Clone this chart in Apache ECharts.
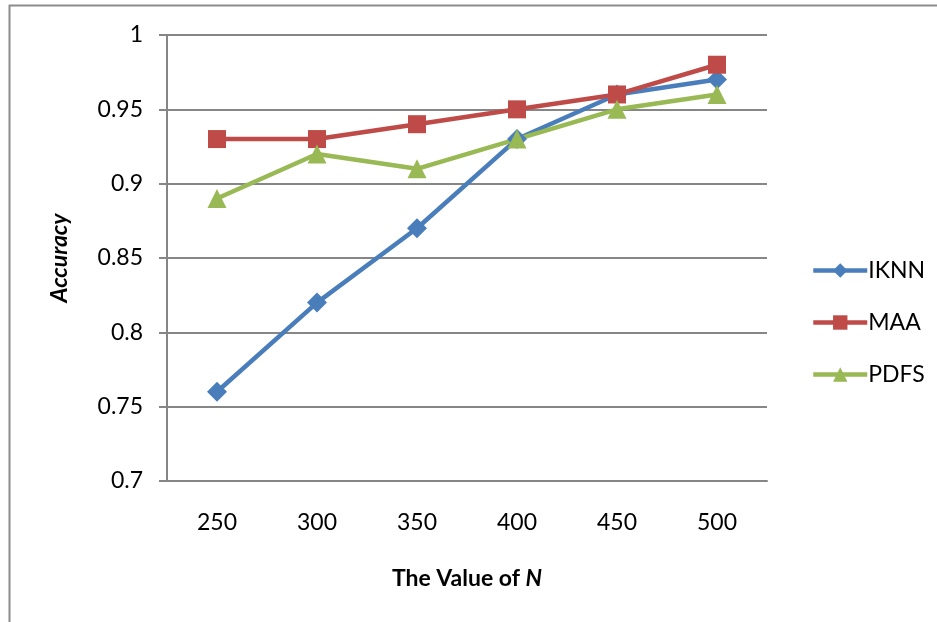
<!DOCTYPE html>
<html><head><meta charset="utf-8">
<script src="https://cdn.jsdelivr.net/npm/echarts@6/dist/echarts.min.js"></script>
<style>html,body{margin:0;padding:0;background:#fff}#c{width:937px;height:622px}</style>
</head><body><div id="c"></div>
<script>
const categories = ['250','300','350','400','450','500'];
const iknn = [0.76, 0.82, 0.87, 0.93, 0.96, 0.97];
const maa  = [0.93, 0.93, 0.94, 0.95, 0.96, 0.98];
const pdfs = [0.89, 0.92, 0.91, 0.93, 0.95, 0.96];
const seriesNames = ['IKNN','MAA','PDFS'];

const FONT = 'Lato';
const FS = 23;
const chart = echarts.init(document.getElementById('c'));
function mk(name, data, color, symbol, size) {
  return {
    name, type: 'line', data, symbol, symbolSize: size,
    lineStyle: { color, width: 4.5 }, itemStyle: { color },
    emphasis: { disabled: true }
  };
}
chart.setOption({
  animation: false,
  backgroundColor: '#fff',
  textStyle: { fontFamily: FONT },
  grid: { left: 167, right: 170, top: 35, bottom: 141 },
  xAxis: {
    type: 'category', data: categories, boundaryGap: true,
    axisLine: { lineStyle: { color: '#868686', width: 2 } },
    axisTick: { show: false },
    axisLabel: { fontSize: FS, color: '#000', fontFamily: FONT, margin: 30 },
    name: '{b|The Value of }{bi|N}', nameLocation: 'middle', nameGap: 86,
    nameTextStyle: { rich: {
      b: { fontSize: FS, fontWeight: 'bold', color: '#000', fontFamily: FONT },
      bi: { fontSize: FS, fontWeight: 'bold', fontStyle: 'italic', color: '#000', fontFamily: FONT }
    } }
  },
  yAxis: {
    type: 'value', min: 0.7, max: 1, interval: 0.05,
    axisLine: { show: true, lineStyle: { color: '#868686', width: 2 } },
    axisTick: { show: true, length: 8, lineStyle: { color: '#868686', width: 2 } },
    splitLine: { lineStyle: { color: '#868686', width: 2 } },
    axisLabel: { fontSize: FS, color: '#000', fontFamily: FONT, margin: 24,
      formatter: v => String(+v.toFixed(2)) },
    name: 'Accuracy', nameLocation: 'middle', nameGap: 96, nameRotate: 90,
    nameTextStyle: { fontSize: FS, fontWeight: 'bold', fontStyle: 'italic', color: '#000', fontFamily: FONT }
  },
  legend: {
    orient: 'vertical', left: 806, top: 254, itemWidth: 54, itemHeight: 18, itemGap: 29,
    data: seriesNames,
    lineStyle: { width: 4.5 },
    textStyle: { fontSize: FS, color: '#000', fontFamily: FONT, padding: [0,0,0,-4] }
  },
  series: [
    mk('IKNN', iknn, '#4a7ebb', 'diamond', 20),
    mk('MAA', maa, '#be4b48', 'rect', 18),
    mk('PDFS', pdfs, '#98b954', 'triangle', 19)
  ],
  graphic: [
    { type: 'line', shape: { x1: 9.5, y1: 5, x2: 9.5, y2: 622 }, style: { stroke: '#8c8c8c', lineWidth: 2 } },
    { type: 'line', shape: { x1: 9, y1: 5.5, x2: 937, y2: 5.5 }, style: { stroke: '#8c8c8c', lineWidth: 2 } }
  ]
});
</script></body></html>
